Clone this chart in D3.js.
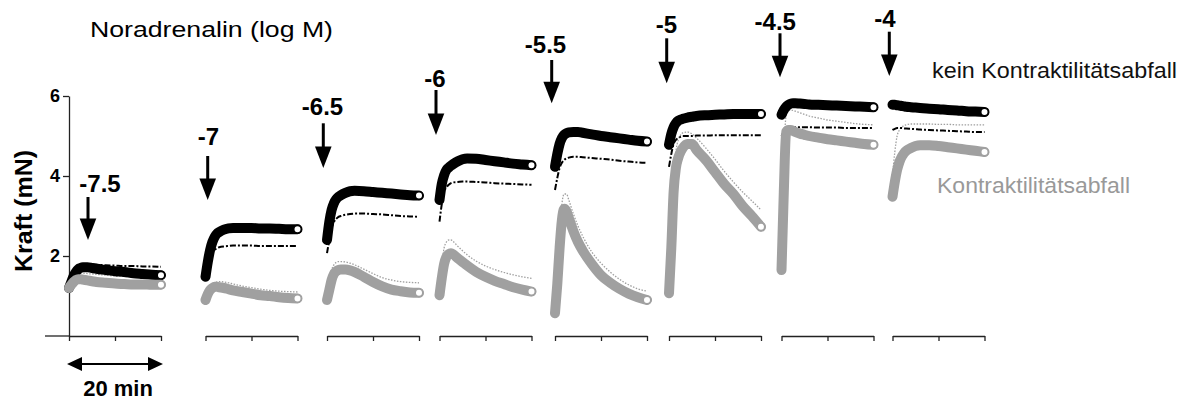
<!DOCTYPE html>
<html>
<head>
<meta charset="utf-8">
<script src="https://cdn.jsdelivr.net/npm/d3@7"></script>
<style>
  html, body { margin: 0; padding: 0; background: #fff; }
  svg { display: block; font-family: "Liberation Sans", Arial, sans-serif; }
</style>
</head>
<body>
<svg id="chart" width="1189" height="401"></svg>
<script>
// ---------------- DATA ----------------
const times = [0, 0.5, 1, 1.5, 2, 2.5, 3, 4, 5, 6, 8, 10, 12, 14, 16, 18, 20];   // min
const concentrations = ["-7.5", "-7", "-6.5", "-6", "-5.5", "-5", "-4.5", "-4"];
const yTicks = [2, 4, 6];
const xTicks = [0, 10, 20];
const legendLabels = ["kein Kontraktilitätsabfall", "Kontraktilitätsabfall"];

// kein Kontraktilitätsabfall (mean, thick black)
const blackMain = [
  [1.2, 1.35, 1.5, 1.6, 1.67, 1.7, 1.72, 1.72, 1.7, 1.68, 1.65, 1.62, 1.6, 1.57, 1.55, 1.53, 1.52],
  [1.48, 1.85, 2.15, 2.35, 2.48, 2.56, 2.6, 2.66, 2.69, 2.7, 2.7, 2.7, 2.69, 2.69, 2.68, 2.67, 2.67],
  [2.4, 2.85, 3.15, 3.32, 3.42, 3.48, 3.52, 3.58, 3.62, 3.63, 3.62, 3.6, 3.58, 3.56, 3.54, 3.52, 3.51],
  [3.4, 3.8, 4.02, 4.15, 4.21, 4.26, 4.3, 4.37, 4.42, 4.44, 4.43, 4.4, 4.37, 4.34, 4.31, 4.29, 4.27],
  [4.23, 4.55, 4.8, 4.95, 5.03, 5.07, 5.09, 5.1, 5.1, 5.08, 5.04, 5.0, 4.97, 4.94, 4.91, 4.88, 4.86],
  [4.78, 5.05, 5.22, 5.32, 5.38, 5.41, 5.43, 5.46, 5.48, 5.5, 5.52, 5.53, 5.54, 5.55, 5.55, 5.55, 5.55],
  [5.53, 5.65, 5.73, 5.78, 5.81, 5.82, 5.82, 5.81, 5.8, 5.79, 5.78, 5.77, 5.76, 5.75, 5.74, 5.73, 5.72],
  [5.78, 5.78, 5.77, 5.76, 5.75, 5.74, 5.73, 5.72, 5.71, 5.7, 5.68, 5.67, 5.65, 5.64, 5.62, 5.61, 5.6]
];
// Kontraktilitätsabfall (mean, thick grey)
const grayMain = [
  [1.2, 1.28, 1.35, 1.4, 1.42, 1.42, 1.41, 1.39, 1.37, 1.35, 1.33, 1.31, 1.3, 1.29, 1.29, 1.28, 1.28],
  [0.9, 1.05, 1.15, 1.2, 1.23, 1.23, 1.22, 1.2, 1.17, 1.14, 1.1, 1.06, 1.02, 1.0, 0.97, 0.95, 0.94],
  [0.9, 1.15, 1.4, 1.55, 1.62, 1.65, 1.66, 1.66, 1.64, 1.6, 1.48, 1.35, 1.24, 1.16, 1.12, 1.09, 1.08],
  [1.02, 1.45, 1.8, 1.98, 2.05, 2.07, 2.04, 1.94, 1.85, 1.76, 1.6, 1.48, 1.38, 1.3, 1.22, 1.16, 1.11],
  [0.57, 1.3, 2.2, 2.9, 3.18, 3.12, 2.95, 2.62, 2.35, 2.14, 1.8, 1.52, 1.33, 1.18, 1.06, 0.97, 0.9],
  [1.07, 2.2, 3.6, 4.2, 4.45, 4.6, 4.7, 4.8, 4.8, 4.65, 4.4, 4.1, 3.8, 3.55, 3.25, 3.0, 2.73],
  [1.65, 3.6, 5.1, 5.15, 5.15, 5.13, 5.1, 5.06, 5.03, 5.0, 4.96, 4.92, 4.89, 4.86, 4.83, 4.8, 4.78],
  [3.48, 3.85, 4.15, 4.35, 4.48, 4.57, 4.63, 4.7, 4.75, 4.77, 4.77, 4.75, 4.72, 4.69, 4.66, 4.63, 4.6]
];
// thin black (dashed) trace
const blackThin = [
  [1.3, 1.5, 1.65, 1.72, 1.77, 1.8, 1.8, 1.8, 1.79, 1.78, 1.77, 1.76, 1.75, 1.75, 1.74, 1.74, 1.73],
  [1.4, 1.7, 1.95, 2.08, 2.15, 2.2, 2.22, 2.24, 2.25, 2.26, 2.26, 2.26, 2.25, 2.25, 2.25, 2.25, 2.25],
  [2.07, 2.4, 2.7, 2.85, 2.93, 2.98, 3.0, 3.03, 3.05, 3.06, 3.06, 3.05, 3.04, 3.02, 3.0, 2.99, 2.98],
  [2.86, 3.3, 3.6, 3.72, 3.78, 3.82, 3.84, 3.85, 3.86, 3.86, 3.85, 3.84, 3.82, 3.81, 3.8, 3.79, 3.78],
  [3.65, 3.95, 4.2, 4.33, 4.4, 4.44, 4.46, 4.48, 4.48, 4.47, 4.45, 4.43, 4.41, 4.38, 4.36, 4.34, 4.33],
  [4.23, 4.55, 4.8, 4.9, 4.95, 4.98, 5.0, 5.0, 5.0, 5.01, 5.01, 5.02, 5.02, 5.02, 5.02, 5.02, 5.02],
  [5.0, 5.1, 5.15, 5.18, 5.2, 5.21, 5.22, 5.22, 5.22, 5.22, 5.21, 5.21, 5.21, 5.2, 5.2, 5.2, 5.2],
  [5.15, 5.18, 5.2, 5.2, 5.2, 5.19, 5.19, 5.18, 5.17, 5.16, 5.15, 5.14, 5.13, 5.12, 5.11, 5.1, 5.1]
];
// thin grey (dotted) trace
const grayThin = [
  [1.25, 1.38, 1.48, 1.53, 1.56, 1.57, 1.57, 1.56, 1.55, 1.54, 1.52, 1.5, 1.49, 1.48, 1.47, 1.46, 1.46],
  [1.0, 1.15, 1.25, 1.3, 1.33, 1.35, 1.36, 1.35, 1.33, 1.3, 1.25, 1.21, 1.17, 1.14, 1.12, 1.11, 1.1],
  [1.1, 1.4, 1.65, 1.78, 1.84, 1.86, 1.86, 1.85, 1.82, 1.78, 1.67, 1.56, 1.46, 1.4, 1.36, 1.34, 1.33],
  [1.3, 1.8, 2.2, 2.35, 2.4, 2.4, 2.36, 2.24, 2.13, 2.03, 1.87, 1.75, 1.66, 1.59, 1.53, 1.48, 1.44],
  [0.8, 1.6, 2.6, 3.3, 3.55, 3.55, 3.4, 3.05, 2.75, 2.5, 2.1, 1.82, 1.6, 1.42, 1.28, 1.18, 1.12],
  [1.5, 2.6, 3.9, 4.6, 4.9, 5.02, 5.08, 5.1, 5.05, 4.95, 4.7, 4.42, 4.12, 3.85, 3.6, 3.38, 3.15],
  [2.5, 4.5, 5.5, 5.62, 5.65, 5.64, 5.62, 5.58, 5.54, 5.5, 5.45, 5.4, 5.37, 5.34, 5.31, 5.29, 5.28],
  [4.0, 4.6, 5.0, 5.15, 5.22, 5.26, 5.28, 5.3, 5.3, 5.3, 5.3, 5.29, 5.29, 5.28, 5.28, 5.28, 5.28]
];

// ---------------- LAYOUT ----------------
const BLACK = "#000000", GREY = "#a0a0a0";
const panelX = [69, 205.5, 327, 439.5, 555, 669, 781.5, 892.5];
const panelW = 92;
const axisY = 336;
const arrowX   = [88, 207.7, 323.3, 436, 551.7, 666.7, 780, 889.3];
const arrowTop = [197, 156, 123.3, 90, 60, 38.3, 33.3, 31.7];
const arrowTip = [240, 200, 168, 135, 103.3, 83.3, 77.3, 76];
const labelX   = [100, 208.5, 322.5, 435, 545.5, 666.5, 775.3, 885];
const labelY   = [192, 145, 115, 86.7, 53.3, 33.3, 30, 26.7];

const svg = d3.select("#chart");
const y = d3.scaleLinear().domain([0, 6]).range([axisY, 96]);

// y axis
const yAxis = svg.append("g")
  .attr("transform", `translate(${panelX[0]},0)`)
  .call(d3.axisLeft(y).tickValues(yTicks).tickSize(6).tickSizeOuter(0).tickFormat(d3.format("d")));
yAxis.select(".domain").attr("stroke", "#222").attr("stroke-width", 1.3);
yAxis.selectAll(".tick line").attr("stroke", "#222").attr("stroke-width", 1.3);
yAxis.selectAll(".tick text")
  .attr("font-size", 18).attr("font-weight", "bold").attr("fill", "#000")
  .attr("font-family", "Liberation Sans, Arial, sans-serif").attr("x", -9);

// y label
svg.append("text")
  .attr("transform", "translate(32,211) rotate(-90)")
  .attr("text-anchor", "middle")
  .attr("font-size", 23).attr("font-weight", "bold")
  .attr("textLength", 122).attr("lengthAdjust", "spacingAndGlyphs")
  .text("Kraft (mN)");

// title
svg.append("text").attr("x", 90).attr("y", 37)
  .attr("font-size", 22).attr("textLength", 243).attr("lengthAdjust", "spacingAndGlyphs")
  .text("Noradrenalin (log M)");

const lineGen = (xs) => d3.line()
  .x((d, i) => xs(times[i]))
  .y(d => y(d))
  .curve(d3.curveMonotoneX);

concentrations.forEach((c, k) => {
  const x = d3.scaleLinear().domain([0, 20]).range([panelX[k], panelX[k] + panelW]);
  const g = svg.append("g");

  // x axis per panel
  const xa = g.append("g").attr("transform", `translate(0,${axisY})`)
    .call(d3.axisBottom(x).tickValues(xTicks).tickSize(5).tickSizeOuter(0).tickFormat(""));
  xa.select(".domain").attr("stroke", "#222").attr("stroke-width", 1.3);
  xa.selectAll(".tick line").attr("stroke", "#222").attr("stroke-width", 1.3);
  if (k === 0) {
    g.append("line").attr("x1", 45).attr("x2", panelX[0]).attr("y1", axisY).attr("y2", axisY)
      .attr("stroke", "#222").attr("stroke-width", 1.3);
  }

  // thin traces
  g.append("path").datum(grayThin[k]).attr("d", lineGen(x))
    .attr("fill", "none").attr("stroke", GREY).attr("stroke-width", 1.3)
    .attr("stroke-dasharray", "1.5,1.5");
  g.append("path").datum(blackThin[k]).attr("d", lineGen(x))
    .attr("fill", "none").attr("stroke", BLACK).attr("stroke-width", 2)
    .attr("stroke-dasharray", "6,2,2,2");

  // thick mean traces
  [[blackMain[k], BLACK], [grayMain[k], GREY]].forEach(([vals, col]) => {
    g.append("path").datum(vals).attr("d", lineGen(x))
      .attr("fill", "none").attr("stroke", col).attr("stroke-width", 10)
      .attr("stroke-linecap", "round").attr("stroke-linejoin", "round");
    const last = vals.length - 1;
    g.append("circle").attr("cx", x(times[last])).attr("cy", y(vals[last]))
      .attr("r", 3.8).attr("fill", "#fff").attr("stroke", col).attr("stroke-width", 1.6);
  });

  // arrow + concentration label
  g.append("line").attr("x1", arrowX[k]).attr("x2", arrowX[k])
    .attr("y1", arrowTop[k]).attr("y2", arrowTip[k] - 18)
    .attr("stroke", "#000").attr("stroke-width", 3);
  g.append("path")
    .attr("d", `M${arrowX[k] - 8.3},${arrowTip[k] - 21.5} L${arrowX[k] + 8.3},${arrowTip[k] - 21.5} L${arrowX[k]},${arrowTip[k]} Z`)
    .attr("fill", "#000");
  g.append("text").attr("x", labelX[k]).attr("y", labelY[k])
    .attr("text-anchor", "middle").attr("font-size", 24).attr("font-weight", "bold")
    .text(c);
});

// legend labels
svg.append("text").attr("x", 932).attr("y", 78)
  .attr("font-size", 22).attr("fill", "#111")
  .attr("textLength", 245).attr("lengthAdjust", "spacingAndGlyphs")
  .text(legendLabels[0]);
svg.append("text").attr("x", 937).attr("y", 193)
  .attr("font-size", 22).attr("fill", "#999")
  .attr("textLength", 193).attr("lengthAdjust", "spacingAndGlyphs")
  .text(legendLabels[1]);

// 20 min scale bar
svg.append("line").attr("x1", 78).attr("x2", 152).attr("y1", 364).attr("y2", 364)
  .attr("stroke", "#000").attr("stroke-width", 2);
svg.append("path").attr("d", "M67,364 L82,357 L82,371 Z").attr("fill", "#000");
svg.append("path").attr("d", "M163,364 L148,357 L148,371 Z").attr("fill", "#000");
svg.append("text").attr("x", 118).attr("y", 396).attr("text-anchor", "middle")
  .attr("font-size", 22).attr("font-weight", "bold").text("20 min");
</script>
</body>
</html>
